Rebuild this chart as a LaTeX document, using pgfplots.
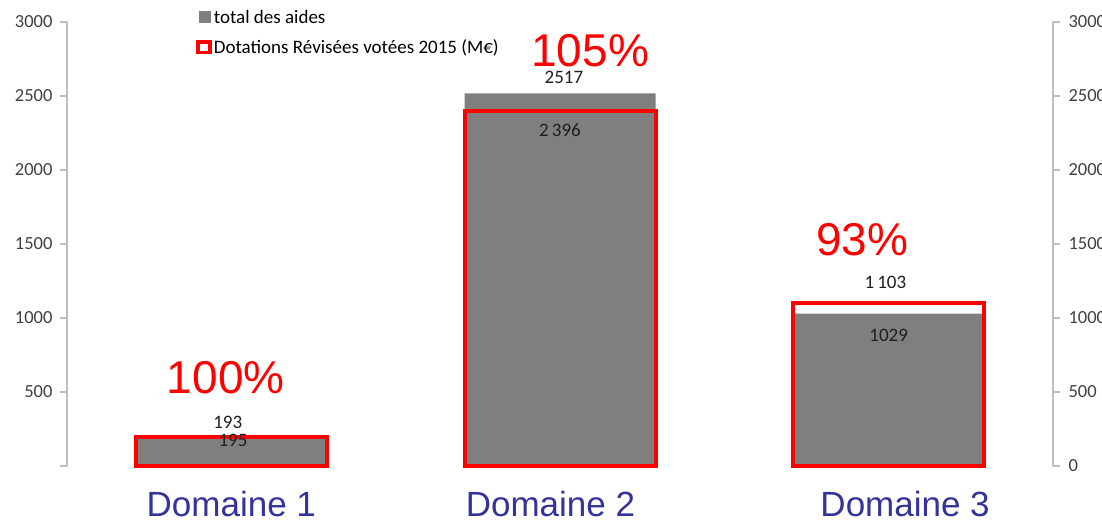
\documentclass[border=0pt]{standalone}
\usepackage{pgfplots}
\pgfplotsset{compat=1.18}
\usepackage{fontspec}
\setmainfont{Carlito}
\newfontfamily\arialf{Liberation Sans}
\definecolor{barg}{RGB}{127,127,127}
\definecolor{axg}{RGB}{191,191,191}
\definecolor{tickg}{RGB}{64,64,64}
\definecolor{lblc}{RGB}{30,30,30}
\definecolor{domblue}{RGB}{51,51,153}

\begin{document}
\begin{tikzpicture}
\useasboundingbox (0,0) rectangle (1102pt,520pt);
\pgfplotsset{
  base/.style={scale only axis,width=986pt,height=444pt,at={(67pt,54pt)},anchor=south west,
    xmin=-0.5,xmax=2.5,ymin=0,ymax=3000,axis x line=none,xtick=\empty,
    axis line style={axg,line width=1.5pt},tick style={axg,line width=1.5pt},
    tick align=outside,major tick length=7pt,ytick={0,500,...,3000},
    yticklabel style={font=\fontsize{18.5}{21}\selectfont,text=tickg},
    /pgf/number format/assume math mode=true,/pgf/number format/1000 sep={},
    scaled y ticks=false,clip=false},
}
% right axis
\begin{axis}[base,axis y line*=right,yticklabel style={xshift=5pt}]
\end{axis}
% left axis with the bars
\begin{axis}[base,axis y line*=left,yticklabels={,500,1000,1500,2000,2500,3000},
  yticklabel style={xshift=-4pt},
  legend style={at={(axis description cs:0.131,1.032)},anchor=north west,draw=none,fill=none,
    font=\fontsize{19}{22}\selectfont,row sep=11pt,inner sep=0pt},
  legend cell align=left]
\addplot[ybar,bar width=191pt,bar shift=0pt,fill=barg,draw=none,
  legend image code/.code={\fill[barg] (0pt,-6pt) rectangle (12pt,6pt);}]
  coordinates {(0,193) (1,2517) (2,1029)};
\addlegendentry{total des aides}
\addplot[ybar,bar width=191pt,bar shift=0pt,fill=none,draw=red,line width=4pt,
  legend image code/.code={\draw[red,fill=white,line width=3.5pt] (-0.5pt,-5pt) rectangle (11.5pt,5.5pt);}]
  coordinates {(0,195) (1,2396) (2,1103)};
\addlegendentry{Dotations Révisées votées 2015 (M€)}
% value labels
\begin{scope}[every node/.style={font=\fontsize{19}{22}\selectfont,text=lblc,inner sep=0pt}]
\node at (axis cs:-0.011,297) {193};
\node at (axis cs:0.005,176) {195};
\node at (axis cs:1.012,2629) {2517};
\node at (axis cs:1.0,2270) {2\,396};
\node at (axis cs:1.99,1243) {1\,103};
\node at (axis cs:2.0,885) {1029};
\end{scope}
% ratio labels
\begin{scope}[every node/.style={font=\arialf\fontsize{46}{50}\selectfont,text=red,anchor=base,inner sep=0pt}]
\node at (axis cs:-0.017,493) {100\%};
\node at (axis cs:1.092,2696) {105\%};
\node at (axis cs:1.92,1425) {93\%};
\end{scope}
% category labels
\begin{scope}[every node/.style={font=\arialf\fontsize{35}{40}\selectfont,text=domblue,anchor=base,inner sep=0pt}]
\node at (axis cs:0,-338) {Domaine 1};
\node at (axis cs:0.971,-338) {Domaine 2};
\node at (axis cs:2.05,-338) {Domaine 3};
\end{scope}
\end{axis}
\end{tikzpicture}
\end{document}
